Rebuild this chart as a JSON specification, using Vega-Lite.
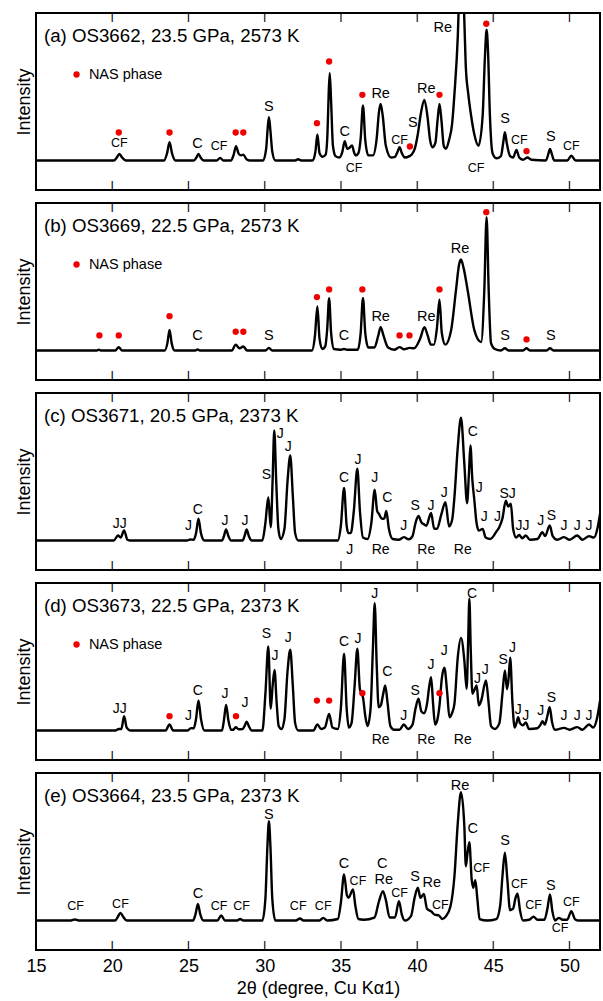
{
"$schema":"https://vega.github.io/schema/vega-lite/v6.json",
"padding":{"left":14,"top":12,"right":1,"bottom":5},
"config":{"view":{"stroke":"black","strokeWidth":2},"concat":{"spacing":11},"font":"Liberation Sans",
"axis":{"grid":false,"labelFont":"Liberation Sans","titleFont":"Liberation Sans"},
"axisY":{"labels":false,"ticks":false,"domain":false,"titleFontSize":18,"titleFontWeight":"normal","titleColor":"black","titlePadding":3},
"axisX":{"labels":false,"ticks":false,"domain":false},
"text":{"font":"Liberation Sans","color":"black"}},
"datasets":{
"tkT":[{"x":20,"y":100,"t":"|"},{"x":25,"y":100,"t":"|"},{"x":30,"y":100,"t":"|"},{"x":35,"y":100,"t":"|"},{"x":40,"y":100,"t":"|"},{"x":45,"y":100,"t":"|"},{"x":50,"y":100,"t":"|"}],
"tkB":[{"x":20,"y":-20,"t":"|"},{"x":25,"y":-20,"t":"|"},{"x":30,"y":-20,"t":"|"},{"x":35,"y":-20,"t":"|"},{"x":40,"y":-20,"t":"|"},{"x":45,"y":-20,"t":"|"},{"x":50,"y":-20,"t":"|"}],
"aL":[{"x":15,"y":0},{"x":20.1,"y":0},{"x":20.3,"y":2},{"x":20.47,"y":4.5},{"x":20.65,"y":2},{"x":20.9,"y":0},{"x":23.4,"y":0},{"x":23.6,"y":5},{"x":23.76,"y":12.4},{"x":23.92,"y":5},{"x":24.15,"y":0},{"x":25.35,"y":0},{"x":25.52,"y":2},{"x":25.66,"y":4.5},{"x":25.8,"y":2},{"x":26.0,"y":0},{"x":26.85,"y":0},{"x":27.08,"y":1.8},{"x":27.3,"y":0},{"x":27.8,"y":0},{"x":27.97,"y":4},{"x":28.12,"y":9.7},{"x":28.3,"y":4.5},{"x":28.45,"y":3.5},{"x":28.6,"y":4},{"x":28.8,"y":1},{"x":29.0,"y":0},{"x":29.9,"y":0},{"x":30.1,"y":8},{"x":30.2,"y":22},{"x":30.28,"y":29.4},{"x":30.38,"y":20},{"x":30.5,"y":6},{"x":30.7,"y":0},{"x":32.0,"y":0},{"x":32.2,"y":0.8},{"x":32.4,"y":0},{"x":33.15,"y":0},{"x":33.33,"y":6},{"x":33.46,"y":17.6},{"x":33.6,"y":5},{"x":33.8,"y":2.5},{"x":34.0,"y":4},{"x":34.12,"y":18},{"x":34.2,"y":45},{"x":34.27,"y":59.2},{"x":34.36,"y":40},{"x":34.48,"y":10},{"x":34.65,"y":3},{"x":34.9,"y":2},{"x":35.1,"y":6},{"x":35.25,"y":13.1},{"x":35.42,"y":8},{"x":35.55,"y":8.5},{"x":35.73,"y":10.2},{"x":35.88,"y":5},{"x":35.98,"y":3.4},{"x":36.15,"y":5},{"x":36.3,"y":15},{"x":36.45,"y":37.3},{"x":36.6,"y":14},{"x":36.8,"y":3.5},{"x":37.1,"y":3.5},{"x":37.35,"y":15},{"x":37.5,"y":33},{"x":37.61,"y":38.4},{"x":37.75,"y":30},{"x":37.95,"y":10},{"x":38.3,"y":2},{"x":38.55,"y":2.5},{"x":38.72,"y":6},{"x":38.85,"y":9},{"x":39.0,"y":5},{"x":39.2,"y":2},{"x":39.5,"y":3},{"x":39.65,"y":4},{"x":39.85,"y":8},{"x":40.05,"y":18},{"x":40.25,"y":32},{"x":40.48,"y":41.1},{"x":40.68,"y":30},{"x":40.85,"y":14},{"x":41.0,"y":9},{"x":41.2,"y":12},{"x":41.35,"y":28},{"x":41.47,"y":38.4},{"x":41.6,"y":27},{"x":41.75,"y":10},{"x":41.9,"y":8},{"x":42.1,"y":14},{"x":42.3,"y":25},{"x":42.45,"y":45},{"x":42.67,"y":84},{"x":42.8,"y":125},{"x":42.88,"y":135},{"x":43.0,"y":125},{"x":43.1,"y":95},{"x":43.2,"y":63},{"x":43.36,"y":45},{"x":43.55,"y":30},{"x":43.75,"y":18},{"x":44.03,"y":10},{"x":44.3,"y":30},{"x":44.45,"y":70},{"x":44.56,"y":88.6},{"x":44.65,"y":75},{"x":44.78,"y":30},{"x":44.95,"y":5},{"x":45.2,"y":1.5},{"x":45.5,"y":3},{"x":45.65,"y":12},{"x":45.76,"y":19.2},{"x":45.88,"y":12},{"x":46.1,"y":3},{"x":46.3,"y":2},{"x":46.52,"y":7.2},{"x":46.7,"y":2},{"x":46.95,"y":0.5},{"x":47.24,"y":2},{"x":47.5,"y":0.5},{"x":48.45,"y":0},{"x":48.6,"y":4},{"x":48.72,"y":7.9},{"x":48.85,"y":4},{"x":49.0,"y":0},{"x":49.85,"y":0},{"x":50.12,"y":3.2},{"x":50.4,"y":0},{"x":52,"y":0}],
"aT":[{"x":20.47,"y":11.7,"t":"CF"},{"x":25.6,"y":11.3,"t":"C"},{"x":27.01,"y":10,"t":"CF"},{"x":30.28,"y":36.1,"t":"S"},{"x":35.25,"y":19.2,"t":"C"},{"x":35.86,"y":-5.2,"t":"CF"},{"x":37.61,"y":45.2,"t":"Re"},{"x":38.85,"y":13.6,"t":"CF"},{"x":39.72,"y":25.3,"t":"S"},{"x":40.6,"y":48.6,"t":"Re"},{"x":41.68,"y":90,"t":"Re"},{"x":43.87,"y":-5.2,"t":"CF"},{"x":45.78,"y":27.8,"t":"S"},{"x":46.7,"y":13.6,"t":"CF"},{"x":48.77,"y":15.8,"t":"S"},{"x":50.12,"y":9.7,"t":"CF"}],
"aD":[{"x":20.43,"y":19},{"x":23.76,"y":19},{"x":28.1,"y":19},{"x":28.6,"y":19},{"x":33.43,"y":25.3},{"x":34.23,"y":67.1},{"x":36.41,"y":44.5},{"x":39.53,"y":9.5},{"x":41.47,"y":44.5},{"x":44.54,"y":92.7},{"x":47.18,"y":6.3},{"x":17.66,"y":58.3}],
"bL":[{"x":15,"y":0},{"x":19.0,"y":0},{"x":19.12,"y":0.6},{"x":19.25,"y":0},{"x":20.2,"y":0},{"x":20.43,"y":2.3},{"x":20.65,"y":0},{"x":23.45,"y":0},{"x":23.62,"y":5},{"x":23.76,"y":14},{"x":23.9,"y":5},{"x":24.1,"y":0},{"x":25.45,"y":0},{"x":25.6,"y":0.7},{"x":25.75,"y":0},{"x":27.85,"y":0},{"x":28.1,"y":4},{"x":28.35,"y":1.5},{"x":28.6,"y":2.7},{"x":28.85,"y":0},{"x":30.05,"y":0},{"x":30.28,"y":1.8},{"x":30.5,"y":0},{"x":33.1,"y":0},{"x":33.3,"y":10},{"x":33.46,"y":29.8},{"x":33.6,"y":8},{"x":33.78,"y":1},{"x":33.98,"y":3},{"x":34.1,"y":14},{"x":34.23,"y":35.5},{"x":34.36,"y":12},{"x":34.55,"y":1},{"x":35.0,"y":0.5},{"x":35.21,"y":1},{"x":35.4,"y":0.5},{"x":36.1,"y":0.5},{"x":36.3,"y":12},{"x":36.45,"y":35.7},{"x":36.6,"y":12},{"x":36.8,"y":2},{"x":37.2,"y":2},{"x":37.45,"y":10},{"x":37.61,"y":15.8},{"x":37.8,"y":10},{"x":38.1,"y":2},{"x":38.5,"y":0.5},{"x":38.85,"y":2.3},{"x":39.15,"y":0.8},{"x":39.5,"y":1.8},{"x":39.8,"y":1.5},{"x":40.2,"y":8},{"x":40.48,"y":15.8},{"x":40.7,"y":10},{"x":40.9,"y":4},{"x":41.1,"y":4},{"x":41.3,"y":15},{"x":41.47,"y":34.4},{"x":41.62,"y":12},{"x":41.85,"y":4},{"x":42.23,"y":13.6},{"x":42.55,"y":40.7},{"x":42.75,"y":58},{"x":42.88,"y":61.7},{"x":43.05,"y":56},{"x":43.32,"y":40.7},{"x":43.76,"y":13.6},{"x":44.2,"y":5.7},{"x":44.41,"y":40.7},{"x":44.56,"y":90.4},{"x":44.7,"y":40},{"x":44.85,"y":5},{"x":45.1,"y":1},{"x":45.5,"y":0},{"x":45.76,"y":1.5},{"x":46.0,"y":0},{"x":46.95,"y":0},{"x":47.18,"y":1.5},{"x":47.4,"y":0},{"x":48.5,"y":0},{"x":48.72,"y":1.5},{"x":48.95,"y":0},{"x":52,"y":0}],
"bT":[{"x":25.6,"y":9.5,"t":"C"},{"x":30.28,"y":9.5,"t":"S"},{"x":35.21,"y":9.7,"t":"C"},{"x":37.61,"y":22.6,"t":"Re"},{"x":40.6,"y":22.6,"t":"Re"},{"x":42.82,"y":68.9,"t":"Re"},{"x":45.78,"y":9.7,"t":"S"},{"x":48.77,"y":9.7,"t":"S"}],
"bD":[{"x":19.16,"y":10.2},{"x":20.43,"y":10.2},{"x":23.76,"y":23.3},{"x":28.1,"y":12.7},{"x":28.6,"y":12.7},{"x":33.43,"y":36.2},{"x":34.23,"y":41.4},{"x":36.41,"y":41.4},{"x":38.85,"y":10.2},{"x":39.5,"y":10.2},{"x":41.47,"y":41.4},{"x":44.54,"y":93.8},{"x":47.18,"y":7.5},{"x":17.66,"y":58.3}],
"cL":[{"x":15,"y":0},{"x":20.1,"y":0},{"x":20.38,"y":3.4},{"x":20.55,"y":2},{"x":20.78,"y":6.8},{"x":21.0,"y":0.5},{"x":21.2,"y":0},{"x":24.9,"y":0},{"x":25.12,"y":0.7},{"x":25.35,"y":0.5},{"x":25.5,"y":5},{"x":25.66,"y":14.7},{"x":25.82,"y":5},{"x":26.05,"y":0},{"x":27.2,"y":0},{"x":27.33,"y":3},{"x":27.47,"y":7.5},{"x":27.62,"y":3},{"x":27.8,"y":0},{"x":28.55,"y":0},{"x":28.68,"y":3},{"x":28.82,"y":7.5},{"x":28.96,"y":3},{"x":29.15,"y":0},{"x":29.85,"y":0},{"x":30.05,"y":12},{"x":30.24,"y":29.4},{"x":30.4,"y":9},{"x":30.52,"y":40},{"x":30.63,"y":74.6},{"x":30.76,"y":40},{"x":30.9,"y":8},{"x":31.05,"y":1},{"x":31.3,"y":8},{"x":31.5,"y":40},{"x":31.68,"y":57.6},{"x":31.85,"y":30},{"x":32.0,"y":5},{"x":32.2,"y":0},{"x":34.8,"y":0},{"x":35.0,"y":10},{"x":35.21,"y":35.7},{"x":35.38,"y":10},{"x":35.5,"y":5},{"x":35.65,"y":5},{"x":35.85,"y":20},{"x":36.08,"y":48.6},{"x":36.25,"y":20},{"x":36.45,"y":2},{"x":36.75,"y":1},{"x":37.0,"y":12},{"x":37.22,"y":34.4},{"x":37.38,"y":20},{"x":37.5,"y":18},{"x":37.7,"y":14.7},{"x":37.85,"y":15},{"x":37.98,"y":20},{"x":38.15,"y":8},{"x":38.4,"y":1},{"x":38.8,"y":0.5},{"x":39.13,"y":2.3},{"x":39.45,"y":0.8},{"x":39.7,"y":3},{"x":39.9,"y":12},{"x":40.09,"y":16.6},{"x":40.3,"y":12},{"x":40.45,"y":11},{"x":40.6,"y":10},{"x":40.92,"y":18.6},{"x":41.12,"y":8},{"x":41.3,"y":8},{"x":41.6,"y":18},{"x":41.86,"y":26},{"x":42.1,"y":9.5},{"x":42.3,"y":14},{"x":42.45,"y":29.4},{"x":42.67,"y":63.3},{"x":42.88,"y":83.2},{"x":43.1,"y":52},{"x":43.28,"y":25.3},{"x":43.4,"y":45},{"x":43.5,"y":64.4},{"x":43.62,"y":42},{"x":43.76,"y":27},{"x":43.9,"y":12},{"x":44.05,"y":6.8},{"x":44.3,"y":7.9},{"x":44.5,"y":2},{"x":44.8,"y":1},{"x":45.2,"y":6},{"x":45.39,"y":9},{"x":45.6,"y":15},{"x":45.82,"y":27},{"x":45.98,"y":23},{"x":46.15,"y":24.9},{"x":46.3,"y":8},{"x":46.5,"y":2},{"x":46.7,"y":3.8},{"x":46.9,"y":1.5},{"x":47.13,"y":3.4},{"x":47.4,"y":0.5},{"x":47.9,"y":1},{"x":48.22,"y":5.6},{"x":48.4,"y":3},{"x":48.7,"y":10.2},{"x":48.9,"y":3},{"x":49.2,"y":0.5},{"x":49.64,"y":2.3},{"x":50.0,"y":0.5},{"x":50.51,"y":3.4},{"x":50.85,"y":0.5},{"x":51.28,"y":3},{"x":51.6,"y":2},{"x":51.85,"y":9},{"x":52,"y":18}],
"cT":[{"x":20.49,"y":11.3,"t":"JJ"},{"x":25.0,"y":9.5,"t":"J"},{"x":25.62,"y":21,"t":"C"},{"x":27.4,"y":12.9,"t":"J"},{"x":28.71,"y":12.9,"t":"J"},{"x":30.11,"y":44.5,"t":"S"},{"x":31.02,"y":72.3,"t":"J"},{"x":31.55,"y":63.7,"t":"J"},{"x":35.21,"y":42.3,"t":"C"},{"x":35.58,"y":-6.3,"t":"J"},{"x":36.12,"y":54.7,"t":"J"},{"x":37.22,"y":42.3,"t":"J"},{"x":37.61,"y":-6.3,"t":"Re"},{"x":38.04,"y":28.7,"t":"C"},{"x":39.13,"y":9.7,"t":"J"},{"x":39.87,"y":23.7,"t":"S"},{"x":40.92,"y":23.7,"t":"J"},{"x":40.6,"y":-6.3,"t":"Re"},{"x":41.79,"y":32.1,"t":"J"},{"x":43.0,"y":-6.3,"t":"Re"},{"x":43.65,"y":73.4,"t":"C"},{"x":44.08,"y":35.5,"t":"J"},{"x":44.41,"y":15.8,"t":"J"},{"x":45.28,"y":15.8,"t":"J"},{"x":45.94,"y":31.7,"t":"SJ"},{"x":46.92,"y":9.7,"t":"JJ"},{"x":48.11,"y":12.9,"t":"J"},{"x":48.81,"y":16.3,"t":"S"},{"x":49.64,"y":9.7,"t":"J"},{"x":50.51,"y":9.7,"t":"J"},{"x":51.28,"y":9.7,"t":"J"}],
"dL":[{"x":15,"y":0},{"x":20.2,"y":0},{"x":20.43,"y":1},{"x":20.6,"y":1},{"x":20.78,"y":9.7},{"x":20.95,"y":2},{"x":21.2,"y":0},{"x":23.5,"y":0},{"x":23.76,"y":4.1},{"x":24.0,"y":0},{"x":24.95,"y":0},{"x":25.16,"y":1.6},{"x":25.35,"y":1.5},{"x":25.5,"y":8},{"x":25.66,"y":20.3},{"x":25.82,"y":8},{"x":26.05,"y":0},{"x":27.2,"y":0},{"x":27.33,"y":7},{"x":27.47,"y":17.4},{"x":27.62,"y":7},{"x":27.8,"y":0.5},{"x":27.95,"y":0.5},{"x":28.1,"y":2.3},{"x":28.3,"y":0.8},{"x":28.55,"y":1},{"x":28.68,"y":3},{"x":28.82,"y":6},{"x":28.96,"y":3},{"x":29.15,"y":0},{"x":29.85,"y":0},{"x":30.05,"y":25},{"x":30.24,"y":57},{"x":30.4,"y":14.7},{"x":30.52,"y":30},{"x":30.65,"y":41.1},{"x":30.78,"y":20},{"x":30.92,"y":3},{"x":31.1,"y":1},{"x":31.3,"y":8},{"x":31.5,"y":40},{"x":31.68,"y":54.7},{"x":31.85,"y":30},{"x":32.0,"y":5},{"x":32.2,"y":0},{"x":33.2,"y":0},{"x":33.46,"y":4.1},{"x":33.7,"y":1},{"x":33.95,"y":2},{"x":34.23,"y":11.3},{"x":34.45,"y":2},{"x":34.8,"y":1},{"x":35.0,"y":15},{"x":35.21,"y":52},{"x":35.38,"y":15},{"x":35.52,"y":2},{"x":35.7,"y":5},{"x":35.9,"y":30},{"x":36.08,"y":55.4},{"x":36.25,"y":28},{"x":36.45,"y":22.6},{"x":36.6,"y":10},{"x":36.75,"y":3},{"x":36.95,"y":15},{"x":37.1,"y":55},{"x":37.22,"y":86.3},{"x":37.35,"y":45},{"x":37.48,"y":15.8},{"x":37.62,"y":17},{"x":37.78,"y":25},{"x":37.91,"y":30.5},{"x":38.05,"y":20},{"x":38.25,"y":3},{"x":38.5,"y":0.5},{"x":38.85,"y":0.5},{"x":39.13,"y":4.1},{"x":39.4,"y":1},{"x":39.7,"y":4},{"x":39.9,"y":15},{"x":40.09,"y":21.5},{"x":40.28,"y":13},{"x":40.45,"y":11.7},{"x":40.65,"y":18},{"x":40.8,"y":30},{"x":40.92,"y":36.2},{"x":41.05,"y":18},{"x":41.18,"y":4.1},{"x":41.3,"y":6},{"x":41.47,"y":17},{"x":41.62,"y":35},{"x":41.79,"y":42.5},{"x":41.98,"y":25},{"x":42.12,"y":9},{"x":42.3,"y":12},{"x":42.45,"y":18},{"x":42.67,"y":49.7},{"x":42.88,"y":62.8},{"x":43.1,"y":47.5},{"x":43.25,"y":28.2},{"x":43.35,"y":60},{"x":43.43,"y":89.3},{"x":43.52,"y":55},{"x":43.63,"y":24.9},{"x":43.78,"y":28},{"x":43.91,"y":30.5},{"x":44.05,"y":17},{"x":44.2,"y":20},{"x":44.52,"y":33.9},{"x":44.68,"y":20},{"x":44.85,"y":3},{"x":45.1,"y":1},{"x":45.4,"y":5},{"x":45.6,"y":25},{"x":45.76,"y":40.7},{"x":45.9,"y":28},{"x":46.0,"y":35},{"x":46.11,"y":49.3},{"x":46.25,"y":20},{"x":46.4,"y":2},{"x":46.52,"y":5},{"x":46.63,"y":9},{"x":46.75,"y":5},{"x":46.95,"y":3.5},{"x":47.13,"y":5.4},{"x":47.35,"y":1},{"x":47.9,"y":1.5},{"x":48.1,"y":4},{"x":48.22,"y":6.3},{"x":48.38,"y":4},{"x":48.55,"y":10},{"x":48.7,"y":15.8},{"x":48.85,"y":6},{"x":49.05,"y":0.5},{"x":49.64,"y":1.8},{"x":50.0,"y":0.5},{"x":50.51,"y":2.3},{"x":50.85,"y":0.5},{"x":51.28,"y":4.1},{"x":51.55,"y":2},{"x":51.8,"y":8},{"x":52,"y":20}],
"dT":[{"x":20.49,"y":14.7,"t":"JJ"},{"x":25.0,"y":9.7,"t":"J"},{"x":25.62,"y":26.7,"t":"C"},{"x":27.4,"y":24.9,"t":"J"},{"x":28.71,"y":18.5,"t":"J"},{"x":30.11,"y":65.5,"t":"S"},{"x":30.68,"y":50.8,"t":"J"},{"x":31.55,"y":62.6,"t":"J"},{"x":35.21,"y":59.9,"t":"C"},{"x":36.12,"y":62.1,"t":"J"},{"x":37.22,"y":92.7,"t":"J"},{"x":37.61,"y":-6.3,"t":"Re"},{"x":38.04,"y":39.5,"t":"C"},{"x":39.13,"y":9.7,"t":"J"},{"x":39.87,"y":27.1,"t":"S"},{"x":40.6,"y":-6.3,"t":"Re"},{"x":40.92,"y":44.1,"t":"J"},{"x":41.79,"y":53.8,"t":"J"},{"x":43.0,"y":-6.3,"t":"Re"},{"x":43.6,"y":92.7,"t":"C"},{"x":43.97,"y":34.6,"t":"J"},{"x":44.48,"y":40.7,"t":"J"},{"x":45.65,"y":48.1,"t":"S"},{"x":46.26,"y":56,"t":"J"},{"x":46.63,"y":13.6,"t":"J"},{"x":47.13,"y":9.7,"t":"J"},{"x":48.11,"y":12.9,"t":"J"},{"x":48.81,"y":21.9,"t":"S"},{"x":49.64,"y":9.7,"t":"J"},{"x":50.51,"y":9.7,"t":"J"},{"x":51.28,"y":9.7,"t":"J"}],
"dD":[{"x":23.76,"y":9.7},{"x":28.12,"y":9.7},{"x":33.43,"y":20.3},{"x":34.23,"y":20.3},{"x":36.41,"y":25.3},{"x":41.47,"y":25.3},{"x":17.66,"y":58.3}],
"eL":[{"x":15,"y":0},{"x":17.3,"y":0},{"x":17.55,"y":0.7},{"x":17.8,"y":0},{"x":20.2,"y":0},{"x":20.37,"y":2.5},{"x":20.54,"y":5.2},{"x":20.72,"y":2.5},{"x":20.95,"y":0},{"x":25.3,"y":0},{"x":25.47,"y":4.5},{"x":25.62,"y":11.3},{"x":25.77,"y":4.5},{"x":25.98,"y":0},{"x":26.9,"y":0},{"x":27.15,"y":3.4},{"x":27.4,"y":0},{"x":28.2,"y":0},{"x":28.39,"y":1},{"x":28.6,"y":0},{"x":29.85,"y":0},{"x":30.05,"y":15},{"x":30.18,"y":50},{"x":30.28,"y":67.3},{"x":30.38,"y":50},{"x":30.5,"y":15},{"x":30.7,"y":0},{"x":32.05,"y":0},{"x":32.31,"y":1.4},{"x":32.55,"y":0},{"x":33.6,"y":0},{"x":33.84,"y":1.8},{"x":34.1,"y":0},{"x":34.8,"y":1},{"x":35.0,"y":12},{"x":35.21,"y":31.2},{"x":35.4,"y":17},{"x":35.5,"y":15.4},{"x":35.8,"y":21},{"x":35.95,"y":10},{"x":36.15,"y":1},{"x":36.5,"y":0.5},{"x":37.2,"y":2},{"x":37.5,"y":13},{"x":37.76,"y":19.9},{"x":37.95,"y":14},{"x":38.2,"y":2},{"x":38.55,"y":2},{"x":38.81,"y":13.1},{"x":39.0,"y":4},{"x":39.2,"y":0},{"x":39.6,"y":3},{"x":39.85,"y":16},{"x":40.05,"y":22.2},{"x":40.22,"y":15.4},{"x":40.44,"y":18},{"x":40.65,"y":8},{"x":40.95,"y":6},{"x":41.15,"y":4},{"x":41.42,"y":3.5},{"x":41.65,"y":1},{"x":41.9,"y":3},{"x":42.2,"y":10},{"x":42.45,"y":30},{"x":42.67,"y":66},{"x":42.88,"y":87},{"x":43.1,"y":64},{"x":43.2,"y":36.8},{"x":43.3,"y":45},{"x":43.43,"y":53.1},{"x":43.58,"y":28},{"x":43.68,"y":22.2},{"x":43.82,"y":27.3},{"x":43.95,"y":15},{"x":44.1,"y":1},{"x":44.6,"y":0},{"x":45.2,"y":1},{"x":45.45,"y":10},{"x":45.6,"y":30},{"x":45.76,"y":45.9},{"x":45.92,"y":28},{"x":46.1,"y":7},{"x":46.3,"y":8},{"x":46.45,"y":15},{"x":46.59,"y":18.1},{"x":46.75,"y":7},{"x":46.95,"y":0},{"x":47.35,"y":0.5},{"x":47.64,"y":2.5},{"x":47.9,"y":0.5},{"x":48.35,"y":0.5},{"x":48.55,"y":8},{"x":48.72,"y":17.6},{"x":48.88,"y":6},{"x":49.05,"y":0},{"x":49.3,"y":1.8},{"x":49.55,"y":0.5},{"x":49.85,"y":0.5},{"x":50.12,"y":6.3},{"x":50.35,"y":1},{"x":50.55,"y":0},{"x":52,"y":0}],
"eT":[{"x":17.6,"y":9.7,"t":"CF"},{"x":20.54,"y":11.5,"t":"CF"},{"x":25.62,"y":18.1,"t":"C"},{"x":27.01,"y":9.7,"t":"CF"},{"x":28.49,"y":9.7,"t":"CF"},{"x":30.28,"y":71.2,"t":"S"},{"x":32.2,"y":9.7,"t":"CF"},{"x":33.84,"y":9.7,"t":"CF"},{"x":35.21,"y":38.4,"t":"C"},{"x":36.12,"y":27.1,"t":"CF"},{"x":37.72,"y":38.4,"t":"C"},{"x":37.81,"y":27.3,"t":"Re"},{"x":38.85,"y":18.8,"t":"CF"},{"x":39.87,"y":29.4,"t":"S"},{"x":40.96,"y":25.1,"t":"Re"},{"x":41.53,"y":10.4,"t":"CF"},{"x":42.82,"y":91.5,"t":"Re"},{"x":43.65,"y":61.7,"t":"C"},{"x":44.23,"y":35.7,"t":"CF"},{"x":45.78,"y":54.2,"t":"S"},{"x":46.7,"y":24.9,"t":"CF"},{"x":47.64,"y":10.2,"t":"CF"},{"x":48.77,"y":23.3,"t":"S"},{"x":49.38,"y":-4.9,"t":"CF"},{"x":50.12,"y":12.4,"t":"CF"}]
},
"vconcat":[
{"width":564,"height":177,"layer":[
{"data":{"name":"aL"},"mark":{"type":"line","color":"black","strokeWidth":2.4,"interpolate":"monotone","clip":true},"encoding":{"x":{"field":"x","type":"quantitative","scale":{"domain":[15,52],"nice":false,"zero":false},"axis":{"orient":"bottom","values":[20,25,30,35,40,45,50],"title":null}},"y":{"field":"y","type":"quantitative","title":"Intensity","scale":{"domain":[-20,100],"nice":false,"zero":false}}}},
{"data":{"name":"tkT"},"mark":{"type":"text","align":"center","baseline":"top","fontSize":8.5,"fontWeight":"bold"},"encoding":{"x":{"field":"x","type":"quantitative"},"y":{"field":"y","type":"quantitative","title":"Intensity"},"text":{"field":"t"}}},
{"data":{"name":"tkB"},"mark":{"type":"text","align":"center","baseline":"bottom","fontSize":8.5,"fontWeight":"bold"},"encoding":{"x":{"field":"x","type":"quantitative"},"y":{"field":"y","type":"quantitative","title":"Intensity"},"text":{"field":"t"}}},
{"data":{"name":"aT"},"mark":{"type":"text","align":"center","baseline":"middle"},"encoding":{"x":{"field":"x","type":"quantitative"},"y":{"field":"y","type":"quantitative","title":"Intensity"},"text":{"field":"t"},"size":{"condition":{"test":"datum.t==='CF'","value":12.5},"value":14.5}}},
{"data":{"name":"aD"},"mark":{"type":"circle","color":"#f00000","size":40,"opacity":1},"encoding":{"x":{"field":"x","type":"quantitative"},"y":{"field":"y","type":"quantitative","title":"Intensity"}}},
{"data":{"values":[{"x":15.52,"y":84.7,"t":"(a) OS3662, 23.5 GPa, 2573 K"}]},"mark":{"type":"text","align":"left","baseline":"middle","fontSize":18.7},"encoding":{"x":{"field":"x","type":"quantitative"},"y":{"field":"y","type":"quantitative","title":"Intensity"},"text":{"field":"t"}}},
{"data":{"values":[{"x":18.47,"y":58.3,"t":"NAS phase"}]},"mark":{"type":"text","align":"left","baseline":"middle","fontSize":14.5},"encoding":{"x":{"field":"x","type":"quantitative"},"y":{"field":"y","type":"quantitative","title":"Intensity"},"text":{"field":"t"}}}
]},
{"width":564,"height":177,"layer":[
{"data":{"name":"bL"},"mark":{"type":"line","color":"black","strokeWidth":2.4,"interpolate":"monotone","clip":true},"encoding":{"x":{"field":"x","type":"quantitative","scale":{"domain":[15,52],"nice":false,"zero":false},"axis":{"orient":"bottom","values":[20,25,30,35,40,45,50],"title":null}},"y":{"field":"y","type":"quantitative","title":"Intensity","scale":{"domain":[-20,100],"nice":false,"zero":false}}}},
{"data":{"name":"tkT"},"mark":{"type":"text","align":"center","baseline":"top","fontSize":8.5,"fontWeight":"bold"},"encoding":{"x":{"field":"x","type":"quantitative"},"y":{"field":"y","type":"quantitative","title":"Intensity"},"text":{"field":"t"}}},
{"data":{"name":"tkB"},"mark":{"type":"text","align":"center","baseline":"bottom","fontSize":8.5,"fontWeight":"bold"},"encoding":{"x":{"field":"x","type":"quantitative"},"y":{"field":"y","type":"quantitative","title":"Intensity"},"text":{"field":"t"}}},
{"data":{"name":"bT"},"mark":{"type":"text","align":"center","baseline":"middle"},"encoding":{"x":{"field":"x","type":"quantitative"},"y":{"field":"y","type":"quantitative","title":"Intensity"},"text":{"field":"t"},"size":{"condition":{"test":"datum.t==='CF'","value":12.5},"value":14.5}}},
{"data":{"name":"bD"},"mark":{"type":"circle","color":"#f00000","size":40,"opacity":1},"encoding":{"x":{"field":"x","type":"quantitative"},"y":{"field":"y","type":"quantitative","title":"Intensity"}}},
{"data":{"values":[{"x":15.52,"y":84.7,"t":"(b) OS3669, 22.5 GPa, 2573 K"}]},"mark":{"type":"text","align":"left","baseline":"middle","fontSize":18.7},"encoding":{"x":{"field":"x","type":"quantitative"},"y":{"field":"y","type":"quantitative","title":"Intensity"},"text":{"field":"t"}}},
{"data":{"values":[{"x":18.47,"y":58.3,"t":"NAS phase"}]},"mark":{"type":"text","align":"left","baseline":"middle","fontSize":14.5},"encoding":{"x":{"field":"x","type":"quantitative"},"y":{"field":"y","type":"quantitative","title":"Intensity"},"text":{"field":"t"}}}
]},
{"width":564,"height":177,"layer":[
{"data":{"name":"cL"},"mark":{"type":"line","color":"black","strokeWidth":2.4,"interpolate":"monotone","clip":true},"encoding":{"x":{"field":"x","type":"quantitative","scale":{"domain":[15,52],"nice":false,"zero":false},"axis":{"orient":"bottom","values":[20,25,30,35,40,45,50],"title":null}},"y":{"field":"y","type":"quantitative","title":"Intensity","scale":{"domain":[-20,100],"nice":false,"zero":false}}}},
{"data":{"name":"tkT"},"mark":{"type":"text","align":"center","baseline":"top","fontSize":8.5,"fontWeight":"bold"},"encoding":{"x":{"field":"x","type":"quantitative"},"y":{"field":"y","type":"quantitative","title":"Intensity"},"text":{"field":"t"}}},
{"data":{"name":"tkB"},"mark":{"type":"text","align":"center","baseline":"bottom","fontSize":8.5,"fontWeight":"bold"},"encoding":{"x":{"field":"x","type":"quantitative"},"y":{"field":"y","type":"quantitative","title":"Intensity"},"text":{"field":"t"}}},
{"data":{"name":"cT"},"mark":{"type":"text","align":"center","baseline":"middle","fontSize":14},"encoding":{"x":{"field":"x","type":"quantitative"},"y":{"field":"y","type":"quantitative","title":"Intensity"},"text":{"field":"t"}}},
{"data":{"values":[{"x":15.52,"y":84.7,"t":"(c) OS3671, 20.5 GPa, 2373 K"}]},"mark":{"type":"text","align":"left","baseline":"middle","fontSize":18.7},"encoding":{"x":{"field":"x","type":"quantitative"},"y":{"field":"y","type":"quantitative","title":"Intensity"},"text":{"field":"t"}}}
]},
{"width":564,"height":177,"layer":[
{"data":{"name":"dL"},"mark":{"type":"line","color":"black","strokeWidth":2.4,"interpolate":"monotone","clip":true},"encoding":{"x":{"field":"x","type":"quantitative","scale":{"domain":[15,52],"nice":false,"zero":false},"axis":{"orient":"bottom","values":[20,25,30,35,40,45,50],"title":null}},"y":{"field":"y","type":"quantitative","title":"Intensity","scale":{"domain":[-20,100],"nice":false,"zero":false}}}},
{"data":{"name":"tkT"},"mark":{"type":"text","align":"center","baseline":"top","fontSize":8.5,"fontWeight":"bold"},"encoding":{"x":{"field":"x","type":"quantitative"},"y":{"field":"y","type":"quantitative","title":"Intensity"},"text":{"field":"t"}}},
{"data":{"name":"tkB"},"mark":{"type":"text","align":"center","baseline":"bottom","fontSize":8.5,"fontWeight":"bold"},"encoding":{"x":{"field":"x","type":"quantitative"},"y":{"field":"y","type":"quantitative","title":"Intensity"},"text":{"field":"t"}}},
{"data":{"name":"dT"},"mark":{"type":"text","align":"center","baseline":"middle","fontSize":14},"encoding":{"x":{"field":"x","type":"quantitative"},"y":{"field":"y","type":"quantitative","title":"Intensity"},"text":{"field":"t"}}},
{"data":{"name":"dD"},"mark":{"type":"circle","color":"#f00000","size":40,"opacity":1},"encoding":{"x":{"field":"x","type":"quantitative"},"y":{"field":"y","type":"quantitative","title":"Intensity"}}},
{"data":{"values":[{"x":15.52,"y":84.7,"t":"(d) OS3673, 22.5 GPa, 2373 K"}]},"mark":{"type":"text","align":"left","baseline":"middle","fontSize":18.7},"encoding":{"x":{"field":"x","type":"quantitative"},"y":{"field":"y","type":"quantitative","title":"Intensity"},"text":{"field":"t"}}},
{"data":{"values":[{"x":18.47,"y":58.3,"t":"NAS phase"}]},"mark":{"type":"text","align":"left","baseline":"middle","fontSize":14.5},"encoding":{"x":{"field":"x","type":"quantitative"},"y":{"field":"y","type":"quantitative","title":"Intensity"},"text":{"field":"t"}}}
]},
{"width":564,"height":177,"layer":[
{"data":{"name":"eL"},"mark":{"type":"line","color":"black","strokeWidth":2.4,"interpolate":"monotone","clip":true},"encoding":{"x":{"field":"x","type":"quantitative","scale":{"domain":[15,52],"nice":false,"zero":false},"axis":{"orient":"bottom","values":[15,20,25,30,35,40,45,50],"labels":true,"labelFontSize":18,"labelColor":"black","labelPadding":7,"labelFlush":false,"title":"2θ (degree, Cu Kα1)","titleFontSize":18,"titleFontWeight":"normal","titleColor":"black","titlePadding":4}},"y":{"field":"y","type":"quantitative","title":"Intensity","scale":{"domain":[-20,100],"nice":false,"zero":false}}}},
{"data":{"name":"tkT"},"mark":{"type":"text","align":"center","baseline":"top","fontSize":8.5,"fontWeight":"bold"},"encoding":{"x":{"field":"x","type":"quantitative"},"y":{"field":"y","type":"quantitative","title":"Intensity"},"text":{"field":"t"}}},
{"data":{"name":"tkB"},"mark":{"type":"text","align":"center","baseline":"bottom","fontSize":8.5,"fontWeight":"bold"},"encoding":{"x":{"field":"x","type":"quantitative"},"y":{"field":"y","type":"quantitative","title":"Intensity"},"text":{"field":"t"}}},
{"data":{"name":"eT"},"mark":{"type":"text","align":"center","baseline":"middle"},"encoding":{"x":{"field":"x","type":"quantitative"},"y":{"field":"y","type":"quantitative","title":"Intensity"},"text":{"field":"t"},"size":{"condition":{"test":"datum.t==='CF'","value":12.5},"value":14.5}}},
{"data":{"values":[{"x":15.52,"y":84.3,"t":"(e) OS3664, 23.5 GPa, 2373 K"}]},"mark":{"type":"text","align":"left","baseline":"middle","fontSize":18.7},"encoding":{"x":{"field":"x","type":"quantitative"},"y":{"field":"y","type":"quantitative","title":"Intensity"},"text":{"field":"t"}}}
]}
]
}
